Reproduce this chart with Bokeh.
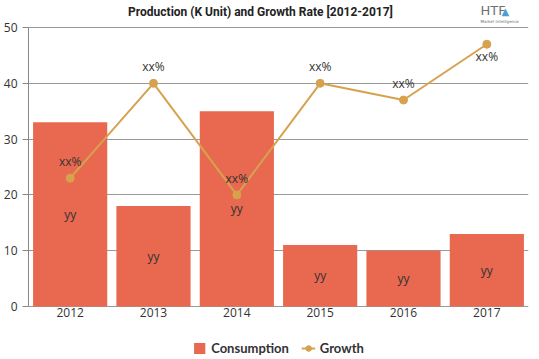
from bokeh.plotting import figure
from bokeh.models import ColumnDataSource, LabelSet, Legend, LegendItem, Label
from bokeh.core.properties import value
from bokeh.embed import file_html
from bokeh.resources import INLINE

years = ["2012", "2013", "2014", "2015", "2016", "2017"]
consumption = [33, 18, 35, 11, 10, 13]
growth = [23, 40, 20, 40, 37, 47]
bar_labels = ["yy"] * 6
growth_labels = ["xx%"] * 6
y_ticks = [0, 10, 20, 30, 40, 50]
title_text = "Production (K Unit) and Growth Rate [2012-2017]"

BAR = "#E8694F"
LINE = "#D6A24E"
GRID = "#9a9a9a"

src = ColumnDataSource(dict(
    year=years, cons=consumption, growth=growth,
    half=[c / 2 for c in consumption],
    bl=bar_labels, gl=growth_labels,
    zero=[0] * len(years),
    goff=[8 if g < 45 else -21 for g in growth],
))

# layout: frame covers the whole canvas height; axis part = 279 px for 0..50
FH = 358
AXIS_PX = 279
TOP_PAD = 27
px = AXIS_PX / y_ticks[-1]
y_lo = -(FH - AXIS_PX - TOP_PAD) / px
y_hi = y_ticks[-1] + TOP_PAD / px

p = figure(frame_width=500, frame_height=FH, x_range=years, y_range=(y_lo, y_hi),
           x_axis_location=None,
           output_backend="svg", toolbar_location=None,
           min_border_left=0, min_border_right=11, min_border_top=0, min_border_bottom=0)
p.x_range.range_padding = 0
p.outline_line_color = None
p.background_fill_color = "white"

bars = p.vbar(x="year", top="cons", width=0.89, source=src, fill_color=BAR, line_color=None)
line = p.line(x="year", y="growth", source=src, line_color=LINE, line_width=2)
pts = p.scatter(x="year", y="growth", source=src, size=8, fill_color=LINE, line_color=LINE)

p.add_layout(LabelSet(x="year", y="half", text="bl", source=src, text_align="center",
                      text_baseline="middle", text_font_size="12px", text_color="#333333",
                      text_font=value("Open Sans")))
p.add_layout(LabelSet(x="year", y="growth", text="gl", source=src, text_align="center",
                      text_baseline="bottom", y_offset="goff", text_font_size="12px",
                      text_color="#333333", text_font=value("Open Sans")))
# category labels under the zero line
p.add_layout(LabelSet(x="year", y="zero", text="year", source=src, text_align="center",
                      text_baseline="top", y_offset=-1, text_font_size="12px",
                      text_color="#333333", text_font=value("Open Sans")))

p.xgrid.grid_line_color = None
p.ygrid.grid_line_color = GRID
p.ygrid.grid_line_width = 1
p.ygrid.ticker = y_ticks

p.yaxis.ticker = y_ticks
p.yaxis.bounds = (0, y_ticks[-1])
ax = p.yaxis[0]
ax.axis_line_color = "#888888"
ax.major_tick_line_color = "#888888"
ax.minor_tick_line_color = None
ax.major_label_text_font = "Open Sans"
ax.major_label_text_font_size = "12px"
ax.major_label_text_color = "#333333"
ax.major_tick_out = 6
ax.major_tick_in = 0

# title and logo inside the top strip of the frame
p.add_layout(Label(x=232, y=FH - 11, x_units="screen", y_units="screen", text=title_text,
                   text_align="center", text_baseline="middle",
                   text_font="Roboto", text_font_style="bold", text_font_size="12px",
                   text_color="#222222"))
p.add_layout(Label(x=452, y=FH - 17, x_units="screen", y_units="screen", text="HTF",
                   text_font="DejaVu Sans", text_font_size="13px", text_color="#707070"))
p.add_layout(Label(x=473, y=FH - 16, x_units="screen", y_units="screen", text="▲",
                   text_font="DejaVu Sans", text_font_size="10px", text_color="#4a9fd6"))
p.add_layout(Label(x=452, y=FH - 23, x_units="screen", y_units="screen", text="Market Intelligence",
                   text_font="DejaVu Sans", text_font_size="4px", text_color="#707070"))

legend = Legend(items=[LegendItem(label="Consumption", renderers=[bars]),
                       LegendItem(label="Growth", renderers=[line, pts])],
                orientation="horizontal", location="bottom_center",
                label_text_font="Lato", label_text_font_style="bold",
                label_text_font_size="13px", label_text_color="#333333",
                border_line_color=None, background_fill_alpha=0,
                glyph_width=14, glyph_height=14,
                label_height=14, spacing=12, padding=1, margin=2)
p.add_layout(legend, "center")

open("out.html", "w").write(file_html(p, INLINE))
